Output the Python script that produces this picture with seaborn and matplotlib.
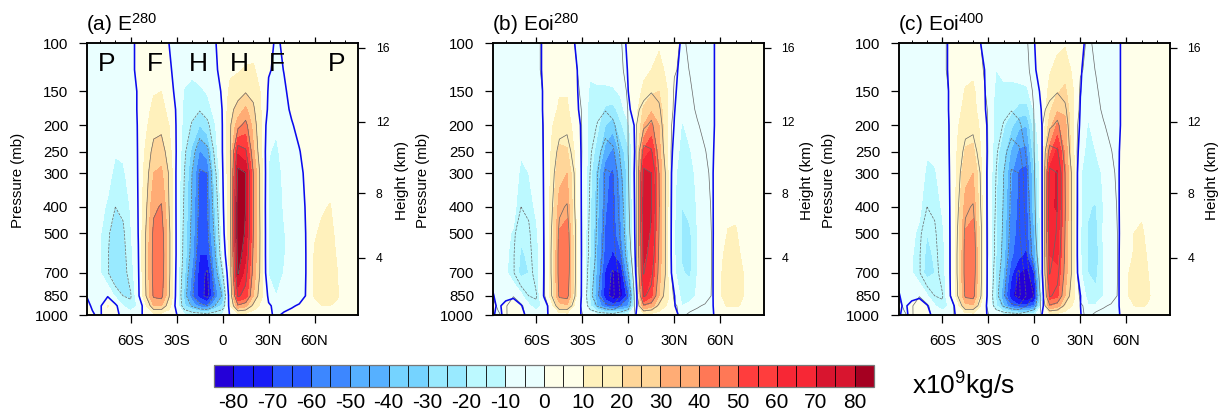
"""Mass stream function cross sections for three runs, with a shared colour bar."""

import matplotlib

matplotlib.use("Agg")

import matplotlib.pyplot as plt
import numpy as np
import seaborn as sns
from matplotlib.cm import ScalarMappable
from matplotlib.colors import BoundaryNorm, ListedColormap

W, H = 1226, 415

LAT = [-88.5, -85, -80, -75, -70, -65, -60, -55, -50, -45, -40, -35, -30, -25, -20, -15, -10, -5, 0,
       5, 10, 15, 20, 25, 30, 35, 40, 45, 50, 55, 60, 65, 70, 75, 80, 85, 88.5]
PLEV = [100, 125, 150, 175, 200, 250, 300, 400, 500, 600, 700, 850, 925, 1000]

# one line per latitude, values from 100 down to 1000 mb (10^9 kg/s)
PSI_A = [
    [-1, -1, -1, -1, -1, -1, -1, -1, -1, -1, -1, -0.2, 1, 1],
    [-2, -2, -2, -2, -2, -2, -2, -2, -2, -2, -2, -1, -0.5, 0.5],
    [-2, -2, -3, -3, -3, -3, -4, -6, -9, -9, -9, -2, -2, -1],
    [-2, -2, -3, -3, -3, -4, -6, -12, -18, -19, -19, -1, 11, 5],
    [-2, -2, -3, -4, -5, -9, -13, -20, -26, -30, -30, -12, 3, 1],
    [-2, -2, -3, -4, -5, -8, -12, -18, -22, -24, -25, -20, -10, -1],
    [-1, -1, -2, -2, -3, -4, -5, -9, -11, -13, -15, -21, -18, -3],
    [1, 1, 0.5, 0.5, 0.5, 0.5, 0.5, 0.5, 0.3, -0.3, -1, -2, -8, -1],
    [1, 2, 4, 6, 8, 12, 15, 18, 21, 22, 22, 20, 8, 1],
    [2, 5, 9, 13, 16, 24, 30, 38, 43, 44, 44, 42, 30, 5],
    [2, 6, 10, 14, 17, 26, 32, 41, 46, 48, 47, 44, 30, 5],
    [0, 1, 3, 6, 10, 14, 19, 20, 23, 23, 23, 21, 14, 4],
    [-1, -2, -2, -1, -1, -1, -2, -2, -2, -2, -3, -4, -4, 0.5],
    [-2, -6, -11, -13, -14, -17, -20, -22, -24, -25, -28, -33, -28, -8],
    [-3, -8, -13, -17, -21, -33, -40, -42, -44, -46, -52, -58, -42, -10],
    [-2, -6, -12, -19, -30, -51, -62, -64, -66, -70, -75, -75, -55, -10],
    [-1, -3, -9, -15, -23, -45, -60, -62, -63, -70, -82, -84, -60, -12],
    [-0.5, -1, -3, -6, -11, -15, -23, -30, -36, -42, -48, -58, -40, -10],
    [3, 2, 1, 0.5, 0.5, 0.5, -0.5, -2, -4, -8, -20, -38, -28, -8],
    [5, 8, 13, 17, 19, 20, 18, 18, 17, 15, 15, 12, 8, 1],
    [5, 9, 16, 24, 36, 68, 84, 90, 90, 87, 81, 62, 38, 5],
    [6, 11, 19, 32, 44, 62, 80, 80, 78, 72, 65, 55, 33, 4],
    [7, 11, 17, 22, 26, 32, 40, 41, 40, 38, 36, 30, 17, 3],
    [5, 7, 9, 10, 11, 12, 16, 16, 17, 17, 17, 13, 7, 1],
    [1, 0.5, -1, -2, -6, -9, -11, -12, -12, -12, -11, -2, 1, 1],
    [-0.5, -1, -3, -5, -8, -13, -14, -16, -18, -19, -17, -10, -2, -1],
    [0.5, 0.1, -0.5, -1, -2, -4, -8, -9, -11, -11, -9.5, -5, -2, 1],
    [1, 1, 1, 0.5, -0.3, -2, -3, -4, -4, -4, -4, -3, -0.5, 1.5],
    [2, 2, 2, 1.5, 1, -0.2, -1, -2, -2.5, -3, -3, -2, 0.5, 2],
    [2, 2, 2, 2, 2, 1.5, 1, 0.7, 0.5, 0.5, 0.5, 0.5, 2, 2.5],
    [1, 1, 1, 2, 2, 3, 4, 6, 9, 11, 11, 11, 7, 3],
    [1, 1, 2, 2, 3, 4, 6, 9, 12, 13, 13, 13, 10, 3],
    [1, 1, 2, 2, 3, 4, 6, 10.5, 12, 13, 13, 13, 10, 3],
    [1, 1, 1, 2, 2, 3, 4, 6, 8, 9, 10, 10.5, 9, 3],
    [1, 1, 1, 1, 2, 2, 3, 4, 5, 5, 5, 5, 4, 2],
    [1, 1, 1, 1, 1, 1, 1, 2, 2, 2, 2, 2, 2, 1],
    [1, 1, 1, 1, 1, 1, 1, 1, 1, 1, 1, 1, 1, 1],
]

PSI_B = [
    [-1, -1, -1, -1, -1, -1, -1, -1, -1, -1, -1, 0.3, 0.5, 0.5],
    [-2, -2, -2, -2, -2, -2, -2, -2, -2, -2, -2, -1, -0.3, -1],
    [-2, -2, -2, -3, -3, -3, -4, -5, -8, -8, -8, -0.5, 0.5, 1],
    [-2, -2, -2, -3, -3, -3, -5, -7, -11, -14, -16, -1, 3, 4],
    [-2, -2, -2, -3, -4, -9, -12, -16, -19, -21, -22, -8, 1, 1],
    [-2, -2, -2, -3, -4, -7, -10, -14, -17, -19, -20, -18, -8, -1],
    [-1, -1, -2, -2, -3, -4, -5, -8, -12, -14, -14, -16, -16, -3],
    [0.5, 0.5, 0.5, 0.5, 0.5, 0.5, 0.5, 0.5, 0.5, 0.5, 0.5, 1, -6, -1],
    [1, 2, 3, 5, 9, 11, 12, 14, 15, 15, 15, 14, 7, 1],
    [2, 5, 9, 12, 15, 22, 27, 34, 41, 42, 43, 41, 25, 4],
    [2, 5, 9, 12, 15, 21, 30, 37, 44, 47, 47, 44, 28, 5],
    [0, 1, 2, 3, 6, 9, 11, 12, 13, 14, 14, 13, 8, 2],
    [-0.5, -2, -3, -3, -2, -2, -2, -2, -2, -2, -2, -2, -2, -0.5],
    [-1, -8, -12, -13, -13, -14, -16, -18, -19, -20, -21, -22, -18, -4],
    [-2, -6, -12, -15, -18, -25, -36, -38, -41, -43, -45, -50, -42, -8],
    [-2, -6, -12, -22, -30, -45, -58, -59, -62, -64, -72, -76, -60, -10],
    [-1, -3, -12, -24, -36, -53, -62, -65, -66, -72, -82, -88, -65, -12],
    [-1, -2, -8, -15, -22, -36, -46, -50, -52, -62, -80, -85, -60, -12],
    [0.5, 0.3, 0.1, -2, -12, -22, -25, -25, -25, -30, -40, -65, -50, -10],
    [3, 4, 5, 6, 4, 5, 8, 6, 5, 4, 2, -8, -5, 0.5],
    [5, 8, 12, 22, 30, 52, 74, 77, 74, 72, 68, 62, 40, 5],
    [6, 10, 18, 28, 42, 62, 70, 72, 68, 65, 60, 52, 35, 5],
    [8, 15, 20, 26, 30, 34, 40, 40, 38, 37, 35, 30, 18, 4],
    [3, 7, 11, 11, 11, 12, 14, 14, 13, 13, 13, 14, 9, 2],
    [1.5, 1.2, 1, 0.5, -0.5, -4, -8, -9, -9, -9, -8, 0.5, 1, 1],
    [-0.5, -1.5, -3, -6, -11, -14, -15, -20, -21, -21, -19, -14, -10, -1],
    [-1, -2, -3, -4, -7, -11, -13, -17, -22, -24, -22, -13, -8, -1],
    [-1, -1, -2, -2, -3, -5, -8, -9, -10, -10, -10, -9, -8, -1],
    [-1, -1, -1, -1, -2, -2, -3, -4, -4, -4, -4, -4, -3, -1],
    [-0.3, -0.3, -0.3, -0.3, -0.3, -0.3, -0.2, -0.3, -0.5, -0.5, -0.5, -0.5, -0.5, -0.5],
    [1, 1, 1, 1, 1, 2, 3, 4, 6, 8, 9, 9, 7, 3],
    [1, 1, 1, 2, 2, 3, 5, 8, 10.5, 13, 14, 14, 11, 3],
    [1, 1, 1, 2, 2, 3, 5, 8, 11, 13, 14, 14, 11, 3],
    [1, 1, 1, 1, 2, 2, 3, 4, 6, 8, 10, 10, 9, 3],
    [1, 1, 1, 1, 1, 2, 2, 3, 4, 4, 5, 5, 4, 2],
    [1, 1, 1, 1, 1, 1, 1, 2, 2, 2, 2, 2, 2, 1],
    [1, 1, 1, 1, 1, 1, 1, 1, 1, 1, 1, 1, 1, 1],
]

PSI_C = [
    [-1, -1, -1, -1, -1, -1, -1, -1, -1, -1, -1, 0.3, 0.5, 0.5],
    [-2, -2, -2, -2, -2, -2, -2, -2, -2, -2, -2, -1, -0.3, -1],
    [-2, -2, -2, -3, -3, -3, -4, -5, -8, -9, -9, -0.5, 0.5, 1],
    [-2, -2, -2, -3, -3, -3, -5, -8, -12, -15, -16, -1, 3, 4],
    [-2, -2, -2, -3, -4, -9, -12, -16, -20, -22, -23, -9, 1, 1],
    [-2, -2, -2, -3, -4, -8, -11, -14, -18, -19, -20, -19, -9, -1],
    [-1, -1, -2, -2, -3, -4, -6, -9, -12, -14, -15, -17, -17, -3],
    [0.5, 0.5, 0.5, 0.5, 0.5, 0.5, 0.5, 0.3, 0.2, 0.2, 0.2, -0.5, -7, -1],
    [1, 2, 3, 6, 9, 11, 12, 14, 15, 15, 15, 14, 6, 0.5],
    [2, 6, 11, 14, 16, 21, 27, 34, 41, 42, 43, 41, 26, 4],
    [2, 8, 12, 14, 16, 22, 30, 37, 44, 48, 48, 45, 28, 5],
    [0, 2, 4, 5, 8, 10, 12, 13, 14, 15, 15, 14, 9, 2],
    [-0.5, -2, -3, -3, -2, -2, -3, -3, -3, -3, -3, -3, -3, -0.5],
    [-2, -10, -12, -14, -14, -16, -18, -19, -19, -20, -21, -22, -18, -4],
    [-3, -8, -12, -15, -19, -27, -31, -33, -35, -37, -40, -50, -40, -8],
    [-3, -8, -12, -18, -28, -42, -49, -53, -55, -58, -68, -78, -60, -10],
    [-3, -7, -12, -24, -38, -52, -62, -63, -65, -68, -80, -88, -68, -12],
    [-2, -5, -12, -25, -40, -54, -64, -65, -66, -72, -84, -90, -68, -12],
    [-0.1, -0.5, -3, -8, -14, -22, -30, -32, -42, -45, -70, -85, -58, -12],
    [2, 2, 1.5, 1, 0.2, -0.5, -0.5, -1, -1, -2, -2, -12, -8, 0.5],
    [5, 9, 13, 18, 25, 45, 66, 68, 64, 60, 56, 55, 40, 5],
    [8, 13, 19, 28, 42, 64, 71, 71, 65, 62, 58, 52, 35, 5],
    [9, 16, 22, 28, 33, 37, 42, 41, 39, 38, 36, 30, 18, 4],
    [4, 8, 11, 12, 12, 13, 15, 15, 14, 14, 14, 14, 9, 2],
    [1, 0.5, 0.2, -0.5, -1.5, -5, -9, -9, -9, -9, -8, 0.5, 0.2, 0.1],
    [-1, -2, -3, -9, -11, -14, -16, -19, -21, -21, -20, -15, -9, -1],
    [-1, -2, -3, -4, -6, -10, -13, -21, -24, -25, -24, -16, -9, -1],
    [-1, -1, -2, -2, -3, -6, -9, -10, -9, -10, -10, -10, -8, -1],
    [-1, -1, -1, -1, -2, -2, -3, -4, -4, -4, -4, -5, -4, -1],
    [-0.3, -0.3, -0.3, -0.3, -0.3, -0.2, -0.2, -0.3, -0.5, -0.5, -0.5, -0.5, -0.5, -0.5],
    [1, 1, 1, 1, 1, 2, 3, 4, 5, 7, 9, 9, 8, 3],
    [1, 1, 1, 1, 2, 3, 4, 8, 10, 10.5, 12, 12, 10, 3],
    [1, 1, 1, 2, 2, 3, 4, 8, 11.5, 13, 13, 13, 11, 3],
    [1, 1, 1, 1, 2, 2, 3, 4, 6, 8, 9.5, 10.5, 9, 3],
    [1, 1, 1, 1, 1, 2, 2, 3, 4, 4, 5, 5, 4, 2],
    [1, 1, 1, 1, 1, 1, 1, 2, 2, 2, 2, 2, 2, 1],
    [1, 1, 1, 1, 1, 1, 1, 1, 1, 1, 1, 1, 1, 1],
]

# BlueDarkRed18 entries, most of them fill two 5-unit boxes
BOX_COLORS = [
    "#2400d8", "#181cf7", "#181cf7", "#2857ff", "#2857ff", "#3d87ff", "#3d87ff", "#56b0ff", "#56b0ff",
    "#75d3ff", "#75d3ff", "#99eaff", "#99eaff", "#bcf9ff", "#bcf9ff", "#eaffff", "#eaffff",
    "#ffffea", "#ffffea", "#fff1bc", "#fff1bc", "#ffd699", "#ffd699", "#ffac75", "#ffac75",
    "#ff7856", "#ff7856", "#ff3d3d", "#ff3d3d", "#f72735", "#f72735", "#d8152f", "#d8152f", "#a50021",
]
LEVELS = list(range(-85, 90, 5))
CBAR_TICKS = list(range(-80, 90, 10))
LINE_LEVELS = [-80, -60, -40, -20, 20, 40, 60, 80]

PRESSURE_TICKS = [100, 150, 200, 250, 300, 400, 500, 700, 850, 1000]
LAT_TICKS = [-60, -30, 0, 30, 60]
LAT_LABELS = ["60S", "30S", "0", "30N", "60N"]
LAT_MINOR = [-80, -70, -50, -40, -20, -10, 10, 20, 40, 50, 70, 80]
HEIGHT_P = [103.5, 194, 356, 616]
HEIGHT_LABELS = ["16", "12", "8", "4"]

REGIMES = ["P", "F", "H", "H", "F", "P"]
REGIME_LAT = [-75.5, -44.5, -16, 10.6, 35.3, 74.5]

PANELS = [
    ("(a) E$^{280}$", PSI_A, 87, 18, 402),
    ("(b) Eoi$^{280}$", PSI_B, 492.7, 423, 807),
    ("(c) Eoi$^{400}$", PSI_C, 898.7, 829, 1212),
]

sns.set_theme(style="ticks")
plt.rcParams["font.family"] = ["Liberation Sans", "DejaVu Sans"]
plt.rcParams["mathtext.fontset"] = "custom"
plt.rcParams["mathtext.rm"] = "Liberation Sans"
plt.rcParams["mathtext.default"] = "regular"
plt.rcParams["text.color"] = "black"
plt.rcParams["xtick.labelcolor"] = "black"
plt.rcParams["ytick.labelcolor"] = "black"

cmap = ListedColormap(sns.color_palette(BOX_COLORS))
cmap.set_under(BOX_COLORS[0])
cmap.set_over(BOX_COLORS[-1])
norm = BoundaryNorm(LEVELS, cmap.N)

reference = np.array(PSI_A).T
fig = plt.figure(figsize=(W / 100, H / 100), dpi=100)


def draw_panel(title, psi, left, press_x, height_x, with_regimes):
    ax = fig.add_axes([left / W, 1 - 315 / H, 271.3 / W, 271.5 / H])
    field = np.array(psi).T
    ax.contourf(LAT, PLEV, field, levels=LEVELS, cmap=cmap, norm=norm, extend="both")
    # thin lines always show the E280 field, also under (b) and (c)
    levels = LINE_LEVELS if with_regimes else sorted(LINE_LEVELS + [0])
    styles = ["--" if v < 0 else "-" for v in levels]
    ax.contour(LAT, PLEV, reference, levels=levels, colors="#666666", linewidths=0.5, linestyles=styles)
    ax.contour(LAT, PLEV, field, levels=[0], colors="#0a0aee", linewidths=1.15)

    ax.set_yscale("log")
    ax.set_ylim(1000, 100)
    ax.set_xlim(-88.5, 88.5)
    ax.set_yticks(PRESSURE_TICKS, [str(p) for p in PRESSURE_TICKS])
    ax.minorticks_off()
    ax.set_xticks(LAT_TICKS, LAT_LABELS)
    ax.set_xticks(LAT_MINOR, minor=True)
    ax.tick_params(axis="x", which="major", length=5.8, width=0.9, pad=8, labelsize=10.8, color="black")
    ax.tick_params(axis="x", which="minor", length=2.9, width=0.7, color="black")
    ax.tick_params(axis="y", which="major", length=5.8, width=0.9, pad=7.6, labelsize=10.8, color="black")
    ax.tick_params(axis="y", which="minor", length=0)

    top = ax.secondary_xaxis("top")
    top.set_xticks(LAT_TICKS, [""] * len(LAT_TICKS))
    top.set_xticks(LAT_MINOR, minor=True)
    top.tick_params(which="major", length=4.6, width=0.9, color="black")
    top.tick_params(which="minor", length=2.4, width=0.7, color="black")
    top.spines["top"].set_visible(False)

    right = ax.twinx()
    right.set_yscale("log")
    right.set_ylim(1000, 100)
    right.set_yticks(HEIGHT_P, HEIGHT_LABELS)
    right.minorticks_off()
    right.tick_params(axis="y", which="major", length=5, width=0.9, pad=7.5, labelsize=8.8, color="black")
    right.tick_params(axis="y", which="minor", length=0)

    for a in (ax, right):
        for spine in a.spines.values():
            spine.set_linewidth(1.1)
            spine.set_color("black")

    if with_regimes:
        for name, lat in zip(REGIMES, REGIME_LAT):
            ax.text(lat, 118.5, name, fontsize=19, ha="center", va="center", color="black")

    fig.text((left - 1) / W, 1 - 30.5 / H, title, fontsize=15, ha="left", va="baseline")
    fig.text(press_x / W, 1 - 180 / H, "Pressure (mb)", fontsize=10.8, rotation=90, ha="center", va="center")
    fig.text(height_x / W, 1 - 180 / H, "Height (km)", fontsize=11, rotation=90, ha="center", va="center")


for i, (title, psi, left, press_x, height_x) in enumerate(PANELS):
    draw_panel(title, psi, left, press_x, height_x, i == 0)

cax = fig.add_axes([214 / W, 1 - 387 / H, 660 / W, 22 / H])
cb = fig.colorbar(ScalarMappable(norm=norm, cmap=cmap), cax=cax, orientation="horizontal",
                  boundaries=LEVELS, spacing="uniform", drawedges=True)
cb.set_ticks(CBAR_TICKS, labels=[str(v) for v in CBAR_TICKS])
cb.ax.tick_params(length=0, pad=4, labelsize=15, color="black")
cb.ax.minorticks_off()
cb.dividers.set_color("black")
cb.dividers.set_linewidth(0.6)
cb.outline.set_edgecolor("#777777")
cb.outline.set_linewidth(0.9)

fig.text(912 / W, 1 - 395 / H, "x10$^{9}$kg/s", fontsize=19, ha="left", va="baseline")

fig.savefig("out.png", dpi=100, facecolor="white")
